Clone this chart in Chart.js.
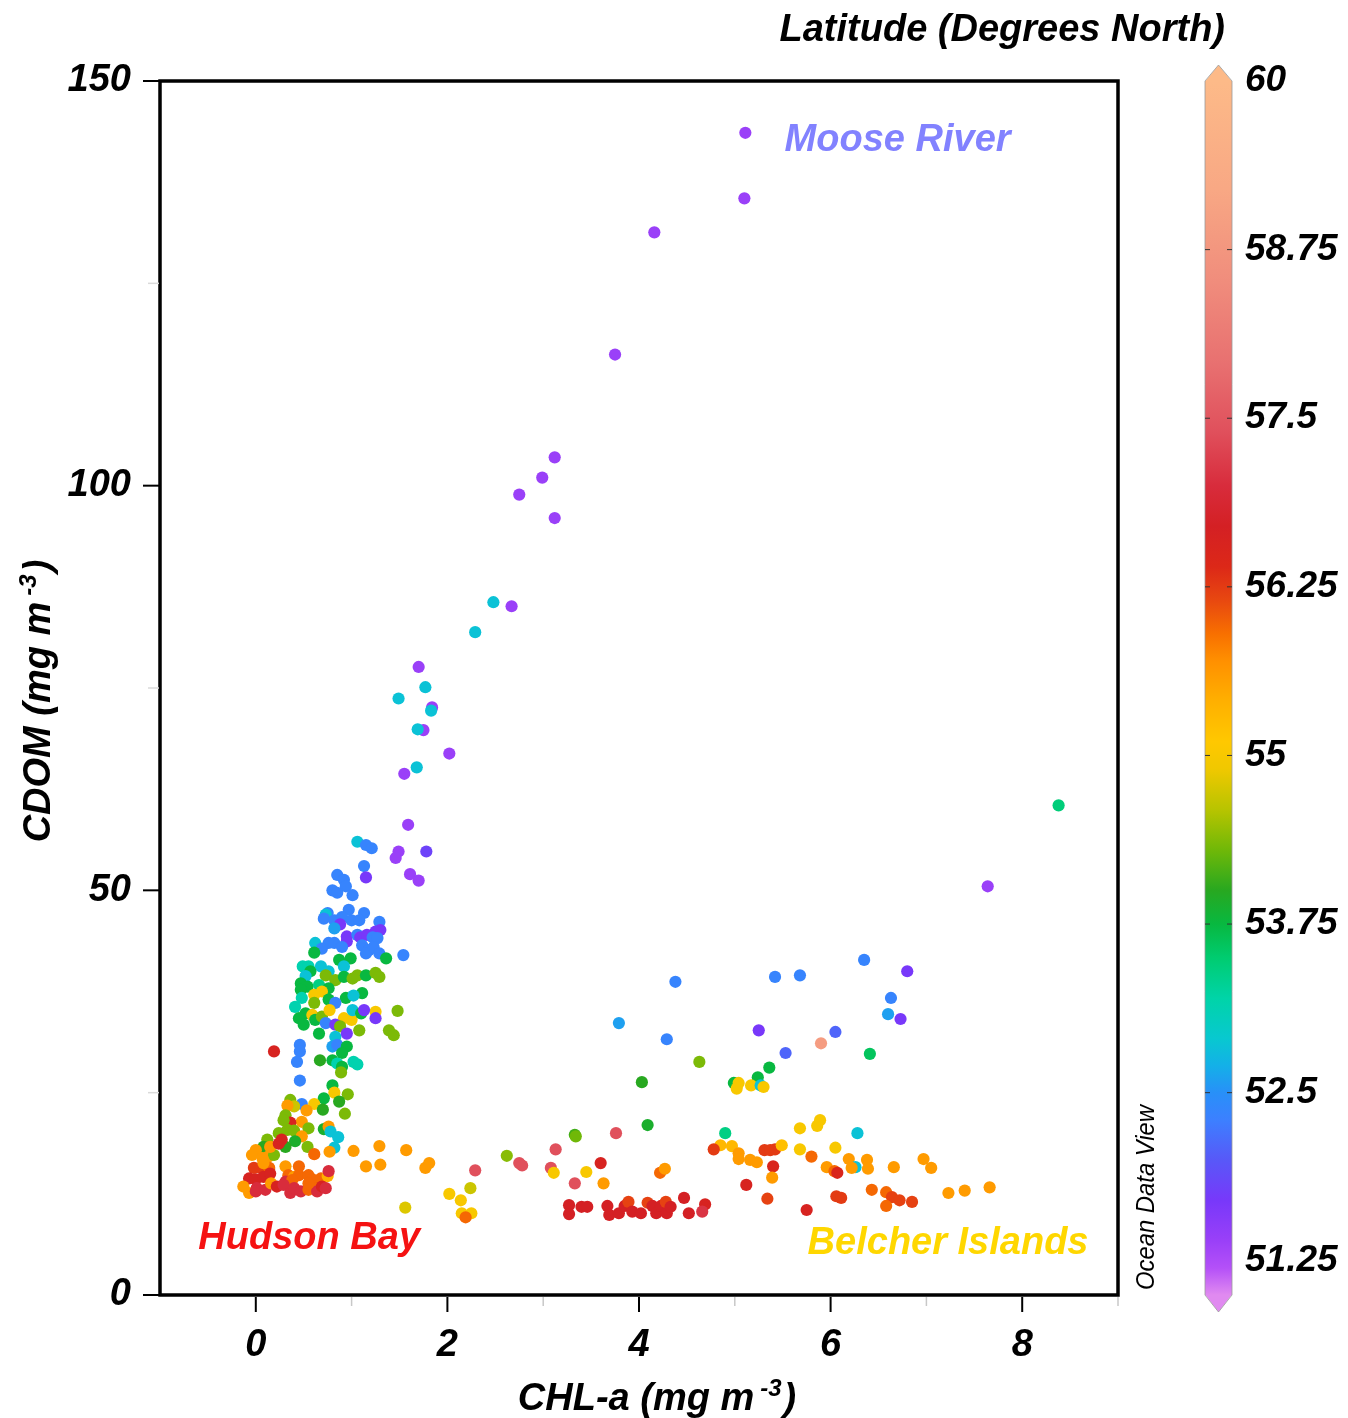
<!DOCTYPE html>
<html>
<head>
<meta charset="utf-8">
<title>CDOM vs CHL-a</title>
<script src="https://cdn.jsdelivr.net/npm/chart.js@4.4.1/dist/chart.umd.min.js"></script>
<style>
  html, body { margin: 0; padding: 0; background: #fff; }
  #wrap { width: 1348px; height: 1418px; }
</style>
</head>
<body>
<div id="wrap"><canvas id="c" width="1348" height="1418"></canvas></div>
<script>
// ---------------- data: CHL-a (mg m-3), CDOM (mg m-3), latitude (deg N) ----------------

// Moose River plume and upper trail
const riverChl  = [5.11,5.10,4.16,3.75,3.12,2.99,2.75,3.12,2.67,2.48,2.29,1.70,1.49,1.77,1.84,1.83,1.75,1.69,2.02,1.68,1.55,1.59,1.78,1.49,1.46,1.61,1.70,8.38,7.64];
const riverCdom = [143.6,135.5,131.3,116.2,103.5,101.0,98.9,96.0,85.1,85.6,81.9,77.6,73.7,75.1,72.6,72.2,69.8,69.9,66.9,65.2,64.4,58.1,54.8,54.8,54.0,52.0,51.2,60.5,50.5];
const riverLat  = [51.4,51.4,51.4,51.4,51.4,51.4,51.4,51.4,51.4,52.85,52.85,51.4,52.85,52.85,51.4,52.85,51.4,52.85,51.4,52.85,51.4,51.4,51.8,51.4,51.4,51.4,51.4,53.45,51.4];

// Offshore stations, mid CDOM
const offshoreChl  = [6.35,6.80,5.68,5.42,4.38,6.63,6.60,6.73,3.79,5.25,6.05,4.29,5.90,5.53,6.41,4.63,5.36,5.24,4.03,4.99,5.04,5.02,5.17,5.27,5.30,4.09,4.90,6.28,3.33];
const offshoreCdom = [41.4,40.0,39.5,39.3,38.7,36.7,34.7,34.1,33.6,32.7,32.5,31.6,31.1,29.9,29.8,28.8,28.1,26.9,26.3,26.2,26.2,25.5,25.9,25.9,25.7,21.0,20.0,20.0,19.8];
const offshoreLat  = [52.35,51.7,52.35,52.35,52.35,52.35,52.6,51.7,52.6,51.7,52.1,52.35,58.9,52.1,53.6,54.35,53.75,53.75,54.0,53.75,55.0,55.0,55.0,52.85,55.0,53.9,53.4,52.85,54.1];

// Belcher Islands band
const belcherChl  = [4.85,4.78,4.97,5.04,5.04,5.16,5.23,5.31,5.37,5.42,5.49,5.40,5.39,5.12,5.34,5.75,4.69,4.66,5.68,5.86,5.89,5.68,5.80,6.05,5.96,6.04,6.07,6.19,6.26,6.22,6.38,6.39,6.66,6.97,7.05,6.06,6.11,6.43,6.58,6.64,6.72,6.58,6.85,7.23,7.40,7.66];
const belcherCdom = [18.5,18.0,18.4,17.5,16.8,16.7,16.4,17.9,17.9,18.0,18.5,15.9,14.5,13.6,11.9,10.5,11.2,10.3,20.6,20.9,21.6,18.0,17.1,18.2,15.8,15.3,15.1,16.8,15.8,15.7,16.7,15.6,15.8,16.8,15.7,12.2,12.0,13.0,12.7,12.1,11.7,11.0,11.5,12.6,12.9,13.3];
const belcherLat  = [55.3,56.25,55.3,55.6,55.6,55.6,55.6,56.25,56.25,56.25,55.2,56.5,55.6,56.6,56.2,56.6,56.6,57.1,55.0,55.0,55.0,55.0,55.95,55.0,55.6,55.95,56.5,55.6,52.85,55.6,55.6,55.6,55.6,55.6,55.6,56.25,56.25,55.95,55.95,56.2,56.2,55.95,56.2,55.6,55.6,55.6];

// Open Hudson Bay, low CDOM band
const bayChl  = [2.29,2.02,2.14,2.24,2.15,2.25,2.19,2.62,2.75,2.78,3.13,3.08,3.11,3.34,3.45,3.33,3.60,3.63,3.76,4.22,4.27,
                 3.27,3.27,3.40,3.46,3.67,3.69,3.79,3.85,3.89,3.93,4.02,4.09,4.14,4.18,4.23,4.28,4.29,4.33,4.47,4.52];
const bayCdom = [15.4,12.5,11.7,13.2,10.1,10.1,9.6,17.2,16.3,16.0,18.0,15.7,15.1,19.6,15.2,13.8,16.3,13.8,20.0,15.1,15.6,
                 11.1,10.0,10.9,10.9,11.0,9.9,10.1,11.0,11.5,10.3,10.1,11.4,11.0,10.1,11.0,11.5,10.1,10.9,12.0,10.1];
const bayLat  = [57.4,55.0,55.0,54.7,55.0,55.0,55.95,54.4,57.4,57.4,57.4,57.4,55.0,54.3,55.0,57.4,56.6,55.6,57.4,55.95,55.6,
                 56.7,56.7,56.7,56.7,56.7,56.7,56.7,56.7,56.2,56.7,56.7,56.2,56.7,56.7,56.7,56.2,56.7,56.7,56.7,56.7];

// Nearshore stations, low CHL-a
const coastChl = [1.06,1.15,1.21,1.13,1.15,0.85,0.92,0.94,0.80,0.85,1.01,0.75,0.73,0.71,0.97,1.13,0.82,0.90,1.00,1.08,
                  1.29,0.88,0.82,1.30,1.25,0.95,1.06,1.09,1.16,1.22,1.27,0.95,0.76,0.82,0.62,0.69,0.90,1.11,1.18,1.15,
                  1.23,1.29,1.54,0.61,0.87,0.99,1.36,0.49,0.55,0.68,0.76,0.92,0.57,0.52,0.73,0.83,0.92,1.01,1.06,1.15,
                  1.25,1.29,0.47,0.54,0.66,0.76,0.47,0.61,0.69,1.11,0.94,1.02,0.48,0.41,0.61,0.76,0.83,0.52,0.59,0.62,
                  0.45,0.69,0.77,0.92,1.00,1.01,1.10,1.25,1.25,1.13,1.48,0.50,0.73,0.83,0.88,0.95,1.08,1.39,1.44,0.66,
                  0.83,
                  0.19,0.46,0.46,0.43,0.46,0.80,0.85,0.95,0.90,0.67,0.80,0.85,0.90,0.89,1.02,1.06,0.80,0.82,0.96,0.87,
                  0.71,0.61,0.48,0.36,0.40,0.33,0.53,0.70,0.93,0.31,0.48,0.36,0.29,0.55,0.33,0.24,0.40,0.71,0.76,0.78,
                  0.86,0.48,0.41,0.54,0.82,0.61,0.77,1.02,1.29,1.57,1.15,1.30,1.77,1.81,1.56,0.12,0.08,0.00,-0.04,0.13,
                  0.19,0.15,0.07,0.31,0.24,0.27,-0.02,0.05,0.14,0.08,0.31,0.45,-0.07,0.00,0.08,0.15,0.34,0.40,0.45,0.55,
                  0.59,0.68,0.75,0.76,0.31,0.38,-0.13,-0.07,0.01,0.00,0.10,0.16,0.22,0.29,0.36,0.40,0.47,0.55,0.61,0.64,
                  0.69,0.73,0.55];
const coastCdom = [56.0,55.6,55.2,53.0,51.6,51.9,51.3,50.5,50.0,49.7,49.4,47.2,47.0,46.5,47.6,47.2,46.3,46.7,46.3,46.3,
                   46.1,45.8,45.3,45.1,44.9,44.3,44.5,44.2,44.5,44.2,44.1,43.7,43.5,43.5,43.5,42.8,43.0,43.2,42.6,42.2,
                   43.0,42.2,42.0,42.3,41.4,41.6,41.6,40.6,40.6,40.6,40.0,40.6,40.0,39.4,39.5,38.9,39.3,39.1,39.5,39.5,
                   39.8,39.3,38.5,38.1,38.3,37.9,37.7,37.1,37.5,37.3,36.7,37.0,36.7,35.6,36.1,36.5,36.1,34.8,34.6,34.0,
                   34.2,34.4,35.2,34.2,34.0,35.2,34.8,35.0,34.2,35.2,35.1,33.4,33.6,33.4,33.2,32.3,32.7,32.7,32.1,32.3,
                   31.9,
                   30.1,30.9,30.1,28.8,26.5,30.7,30.9,30.7,29.9,29.0,29.0,28.6,28.2,27.5,28.8,28.5,25.9,25.0,24.8,23.9,
                   24.3,23.6,23.6,24.1,23.3,23.4,22.8,22.9,22.4,22.2,21.4,21.3,21.6,20.6,20.4,20.0,20.3,20.5,20.8,20.2,
                   19.5,19.6,19.0,18.3,18.2,17.4,17.7,17.8,18.4,17.9,15.9,16.1,15.7,16.3,10.8,19.2,18.3,17.9,17.3,17.1,
                   17.3,18.3,16.9,18.3,18.7,19.2,15.7,15.7,15.7,16.3,15.9,15.9,14.4,14.3,14.6,15.0,14.8,14.6,14.8,14.8,
                   14.3,14.4,14.7,15.3,14.0,14.2,13.4,12.6,13.2,12.8,13.0,13.8,13.4,13.6,12.6,13.2,12.8,13.0,13.2,12.8,
                   13.4,13.2,13.8];
const coastLat = [52.85,52.35,52.35,52.35,51.7,52.35,52.35,52.35,52.35,52.35,52.35,52.35,52.85,52.35,52.35,52.35,52.35,52.35,52.35,52.35,
                  52.35,51.7,52.6,51.7,51.7,51.7,52.35,51.7,51.7,52.35,52.35,51.7,52.35,52.35,52.85,52.35,52.35,52.35,52.35,52.35,
                  52.35,52.35,52.35,53.75,53.75,53.75,53.75,53.15,53.15,52.85,52.85,52.85,53.75,52.85,54.35,54.35,53.75,54.35,54.35,53.75,
                  54.35,54.35,53.75,53.75,53.4,53.75,53.75,55.0,55.0,53.75,53.75,52.85,53.15,53.15,54.35,53.75,52.35,53.75,55.0,53.75,
                  53.75,54.35,55.0,55.0,55.0,52.85,53.75,55.0,51.7,51.7,54.35,53.75,52.35,51.7,54.35,51.7,54.35,54.35,54.35,53.75,
                  52.85,
                  56.6,52.35,52.35,52.35,52.35,52.6,52.35,53.75,53.75,54.0,53.75,53.15,53.75,54.35,53.15,53.15,53.75,55.0,54.35,54.0,
                  53.75,55.0,52.35,54.35,54.7,55.6,55.6,54.0,54.35,54.35,55.6,56.6,54.35,54.35,54.35,54.35,54.35,53.9,55.6,52.85,
                  52.85,55.6,53.9,54.35,52.85,55.95,55.6,55.6,55.6,55.6,55.6,55.6,55.6,55.6,54.8,54.35,54.0,55.6,55.6,55.6,
                  54.35,55.6,55.6,54.0,56.6,56.6,56.25,56.25,55.95,55.6,55.6,55.95,56.6,56.6,56.6,56.6,55.95,55.6,55.95,55.95,
                  55.95,55.95,55.4,57.0,57.0,55.95,55.6,55.6,57.0,57.0,57.0,55.6,56.6,57.0,57.0,57.0,57.0,55.95,55.95,57.0,
                  56.6,57.0,55.95];

// axis and colour-bar tick values
const xLabelTicks = [0, 2, 4, 6, 8];
const xMinorTicks = [1, 3, 5, 7, 9];
const yLabelTicks = [0, 50, 100, 150];
const yMinorTicks = [25, 75, 125];
const latTicks = [51.25, 52.5, 53.75, 55, 56.25, 57.5, 58.75, 60];

// region names written on the plot, anchored in data units
const regionLabels = [
  { text: 'Moose River',     x: 5.52,  y: 142.7, color: '#8282FF' },
  { text: 'Hudson Bay',      x: -0.60, y: 7.0,   color: '#F51212' },
  { text: 'Belcher Islands', x: 5.76,  y: 6.3,   color: '#FFD700' }
];

// ---------------- latitude colour scale ----------------
const stopVals = [51.0, 51.2, 51.4, 51.7, 52.0, 52.3, 52.5, 52.7, 52.9, 53.2, 53.5, 53.75, 54.0, 54.3, 54.6, 54.9, 55.1, 55.4, 55.7, 55.9, 56.15, 56.4, 56.7, 57.0, 57.4, 57.9, 58.5, 59.2, 60.0];
const stopCols = ['#E08AF0','#B450F8','#9A40F8','#7838FA','#5858F8','#3C80FF','#2890F8','#14B0E8','#08C8D0','#00D4A8','#00CC70','#08B840','#28A820','#70B808','#B8C400','#F0C800','#FFC800','#FFB000','#FF9000','#F87000','#E84810','#DC2818','#D42024','#D82C3C','#E0505C','#E87070','#F08C7C','#F8A884','#FDBA88'];

function hexToRgb(h) {
  const n = parseInt(h.slice(1), 16);
  return [(n >> 16) & 255, (n >> 8) & 255, n & 255];
}
function latColor(v) {
  if (v <= stopVals[0]) return stopCols[0];
  for (let i = 1; i < stopVals.length; i++) {
    if (v <= stopVals[i]) {
      const t = (v - stopVals[i - 1]) / (stopVals[i] - stopVals[i - 1]);
      const a = hexToRgb(stopCols[i - 1]), b = hexToRgb(stopCols[i]);
      const c = a.map((ch, k) => Math.round(ch + (b[k] - ch) * t));
      return `rgb(${c[0]},${c[1]},${c[2]})`;
    }
  }
  return stopCols[stopCols.length - 1];
}

const FAMILY = "'Liberation Sans', Arial, Helvetica, sans-serif";
const tickFont = { family: FAMILY, size: 38, style: 'italic', weight: 'bold' };
const boldItalic = (px) => `italic bold ${px}px ${FAMILY}`;

const groups = [
  { name: 'Nearshore',       chl: coastChl,    cdom: coastCdom,    lat: coastLat },
  { name: 'Hudson Bay',      chl: bayChl,      cdom: bayCdom,      lat: bayLat },
  { name: 'Belcher Islands', chl: belcherChl,  cdom: belcherCdom,  lat: belcherLat },
  { name: 'Offshore',        chl: offshoreChl, cdom: offshoreCdom, lat: offshoreLat },
  { name: 'Moose River',     chl: riverChl,    cdom: riverCdom,    lat: riverLat }
];

// title with a raised "-3" exponent, centred on cx along the current baseline
function drawUnitTitle(ctx, head, sup, tail, cx, baseY) {
  ctx.font = boldItalic(38);
  const wHead = ctx.measureText(head).width;
  const wTail = ctx.measureText(tail).width;
  ctx.font = boldItalic(24);
  const wSup = ctx.measureText(sup).width;
  const gap = 6, gap2 = 2;
  const total = wHead + gap + wSup + gap2 + wTail;
  let x = cx - total / 2;
  ctx.textAlign = 'left';
  ctx.textBaseline = 'alphabetic';
  ctx.font = boldItalic(38);
  ctx.fillText(head, x, baseY);
  x += wHead + gap;
  ctx.font = boldItalic(24);
  ctx.fillText(sup, x, baseY - 14);
  x += wSup + gap2;
  ctx.font = boldItalic(38);
  ctx.fillText(tail, x, baseY);
}

const decor = {
  id: 'decor',
  afterDatasetsDraw(chart) {
    const { ctx, chartArea: a, scales } = chart;
    const xs = scales.x, ys = scales.y, ls = scales.lat;
    ctx.save();

    // plot frame
    ctx.strokeStyle = '#000';
    ctx.lineWidth = 3.5;
    ctx.lineJoin = 'miter';
    ctx.strokeRect(a.left, a.top, a.right - a.left, a.bottom - a.top);

    // x ticks
    ctx.lineWidth = 2;
    ctx.strokeStyle = '#000';
    xLabelTicks.forEach(v => {
      const px = xs.getPixelForValue(v);
      ctx.beginPath(); ctx.moveTo(px, a.bottom + 2); ctx.lineTo(px, a.bottom + 17); ctx.stroke();
    });
    ctx.lineWidth = 1.5;
    ctx.strokeStyle = '#C8C8C8';
    xMinorTicks.forEach(v => {
      const px = xs.getPixelForValue(v);
      ctx.beginPath(); ctx.moveTo(px, a.bottom + 2); ctx.lineTo(px, a.bottom + 11); ctx.stroke();
    });
    // y ticks
    ctx.lineWidth = 2;
    ctx.strokeStyle = '#000';
    yLabelTicks.forEach(v => {
      const py = ys.getPixelForValue(v);
      ctx.beginPath(); ctx.moveTo(a.left - 17, py); ctx.lineTo(a.left - 1, py); ctx.stroke();
    });
    ctx.lineWidth = 1.5;
    ctx.strokeStyle = '#DADADA';
    yMinorTicks.forEach(v => {
      const py = ys.getPixelForValue(v);
      ctx.beginPath(); ctx.moveTo(a.left - 12, py); ctx.lineTo(a.left - 1, py); ctx.stroke();
    });

    // axis titles
    ctx.fillStyle = '#000';
    drawUnitTitle(ctx, 'CHL-a (mg m', '-3', ')', (a.left + a.right) / 2 + 18, 1410);
    ctx.save();
    ctx.translate(50, 701);
    ctx.rotate(-Math.PI / 2);
    drawUnitTitle(ctx, 'CDOM (mg m', '-3', ')', 0, 0);
    ctx.restore();

    // region names
    regionLabels.forEach(r => {
      ctx.font = boldItalic(38);
      ctx.fillStyle = r.color;
      ctx.textAlign = 'left';
      ctx.textBaseline = 'middle';
      ctx.fillText(r.text, xs.getPixelForValue(r.x), ys.getPixelForValue(r.y));
    });

    // colour bar
    const bx0 = 1205, bx1 = 1232, bmid = (bx0 + bx1) / 2;
    const latMin = ls.min, latMax = ls.max;
    const yTop = ls.getPixelForValue(latMax), yBot = ls.getPixelForValue(latMin);
    const grad = ctx.createLinearGradient(0, yBot, 0, yTop);
    stopVals.forEach((v, i) => {
      if (v >= latMin && v <= latMax) grad.addColorStop((v - latMin) / (latMax - latMin), stopCols[i]);
    });
    ctx.fillStyle = grad;
    ctx.fillRect(bx0, yTop, bx1 - bx0, yBot - yTop);
    // end arrows
    ctx.fillStyle = latColor(latMax);
    ctx.beginPath(); ctx.moveTo(bx0, yTop + 0.5); ctx.lineTo(bmid, yTop - 16); ctx.lineTo(bx1, yTop + 0.5); ctx.closePath(); ctx.fill();
    ctx.fillStyle = latColor(latMin);
    ctx.beginPath(); ctx.moveTo(bx0, yBot - 0.5); ctx.lineTo(bmid, yBot + 17); ctx.lineTo(bx1, yBot - 0.5); ctx.closePath(); ctx.fill();
    // outline
    ctx.strokeStyle = '#9A9A9A';
    ctx.lineWidth = 0.8;
    ctx.beginPath();
    ctx.moveTo(bx0, yTop); ctx.lineTo(bmid, yTop - 16); ctx.lineTo(bx1, yTop);
    ctx.lineTo(bx1, yBot); ctx.lineTo(bmid, yBot + 17); ctx.lineTo(bx0, yBot); ctx.closePath();
    ctx.stroke();
    // bar ticks and labels
    ctx.strokeStyle = '#333';
    ctx.lineWidth = 1;
    ctx.font = boldItalic(37);
    ctx.fillStyle = '#000';
    ctx.textAlign = 'left';
    ctx.textBaseline = 'middle';
    latTicks.forEach(v => {
      const py = ls.getPixelForValue(v);
      if (v > latTicks[0] && v < latTicks[latTicks.length - 1]) {
        ctx.beginPath(); ctx.moveTo(bx0, py); ctx.lineTo(bx0 + 5, py); ctx.moveTo(bx1 - 5, py); ctx.lineTo(bx1, py); ctx.stroke();
      }
      ctx.fillText(String(v), 1245, py);
    });
    // colour bar title
    ctx.font = boldItalic(38);
    ctx.textAlign = 'right';
    ctx.textBaseline = 'alphabetic';
    ctx.fillText('Latitude (Degrees North)', 1225, 41);

    // software credit
    ctx.save();
    ctx.translate(1154, 1290);
    ctx.rotate(-Math.PI / 2);
    ctx.font = `italic 25px 'Liberation Sans Narrow', ${FAMILY}`;
    const w = ctx.measureText('Ocean Data View').width;
    ctx.scale(185 / w, 1);
    ctx.textAlign = 'left';
    ctx.textBaseline = 'alphabetic';
    ctx.fillStyle = '#000';
    ctx.fillText('Ocean Data View', 0, 0);
    ctx.restore();

    ctx.restore();
  }
};

new Chart(document.getElementById('c'), {
  type: 'scatter',
  data: {
    datasets: groups.map(g => ({
      label: g.name,
      xAxisID: 'x',
      yAxisID: 'y',
      data: g.chl.map((v, i) => ({ x: v, y: g.cdom[i] })),
      backgroundColor: g.lat.map(latColor),
      borderWidth: 0,
      pointRadius: 6.1,
      pointHoverRadius: 6.1
    }))
  },
  options: {
    responsive: false,
    animation: false,
    devicePixelRatio: 1,
    events: [],
    layout: { padding: { top: 81, right: 230, bottom: 0, left: 0 } },
    plugins: { legend: { display: false }, tooltip: { enabled: false } },
    scales: {
      x: {
        type: 'linear', position: 'bottom', min: -1, max: 9,
        afterBuildTicks: s => { s.ticks = xLabelTicks.map(v => ({ value: v })); },
        afterFit: s => { s.height = 123; },
        grid: { display: false, drawTicks: false },
        border: { display: false },
        ticks: { font: tickFont, color: '#000', padding: 28, autoSkip: false, maxRotation: 0, minRotation: 0 }
      },
      y: {
        type: 'linear', position: 'left', min: 0, max: 150,
        afterBuildTicks: s => { s.ticks = yLabelTicks.map(v => ({ value: v })); },
        afterFit: s => { s.width = 160; },
        grid: { display: false, drawTicks: false },
        border: { display: false },
        ticks: { font: tickFont, color: '#000', padding: 29, autoSkip: false }
      },
      lat: {
        type: 'linear', axis: 'y', position: 'right', min: 51.0, max: 60, display: false
      }
    }
  },
  plugins: [decor]
});
</script>
</body>
</html>
